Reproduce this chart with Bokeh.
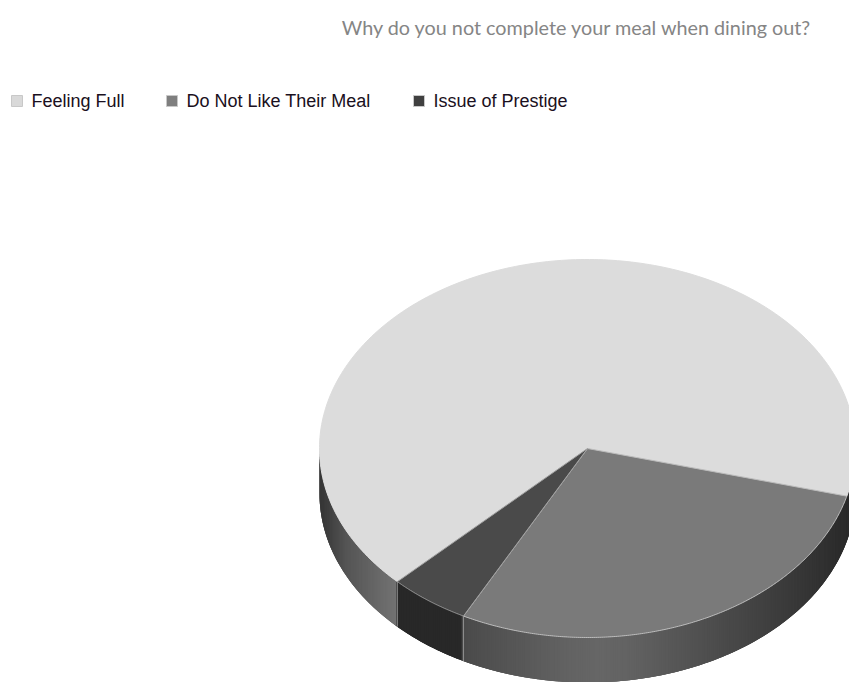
import numpy as np
from bokeh.core.properties import value
from bokeh.embed import file_html
from bokeh.models import Range1d
from bokeh.plotting import figure
from bokeh.resources import INLINE

title = "Why do you not complete your meal when dining out?"
categories = ["Feeling Full", "Do Not Like Their Meal", "Issue of Prestige"]
shares = [66.5, 28.6, 4.9]
top_colors = ["#dcdcdc", "#7a7a7a", "#4a4a4a"]
rim_colors = ["#dcdcdc", "#bcbcbc", "#a0a0a0"]
swatch_colors = ["#d9d9d9", "#7f7f7f", "#404040"]
legend_x = [11, 166, 413]

W, H = 849, 682
CX, CY, RX, RY, DEPTH = 587, 448, 268, 189, 45
# Slices run clockwise on screen, starting at the lower-left boundary of
# Feeling Full, so the first slice wraps over the back of the pie.
START_DEG = 135.2

p = figure(width=W, height=H, x_range=Range1d(0, W), y_range=Range1d(H, 0),
           output_backend="svg", toolbar_location=None, min_border=0,
           outline_line_color=None, background_fill_color="white")
p.axis.visible = False
p.grid.visible = False


def ellipse_x(t):
    return CX + RX * np.cos(np.radians(t))


def ellipse_y(t):
    return CY + RY * np.sin(np.radians(t))


def shade(x, stops):
    xs, greys = zip(*stops)
    g = int(round(np.interp(x, xs, greys)))
    return f"#{g:02x}{g:02x}{g:02x}"


edges = [START_DEG]
for share in shares:
    edges.append(edges[-1] + share * 3.6)

wall_left = [(319, 0x34), (345, 0x54), (398, 0x74)]
wall_main = [(462, 0x4a), (530, 0x5a), (570, 0x63), (600, 0x66), (630, 0x62),
             (700, 0x50), (780, 0x3c), (855, 0x28)]

split_main = edges[2] - 360   # Dislike / Prestige boundary on the rim
split_left = START_DEG        # Prestige / Full boundary on the rim

# Outer wall, front half of the rim only. Each strip reaches into the next
# one, which paints over the overlap and leaves no seams.
STEP = 0.5
wall_xs, wall_ys, wall_cols = [], [], []
for t0 in np.arange(0.0, 180.0, STEP):
    t1 = min(t0 + STEP * 3, 180.0)
    mid_x = ellipse_x(t0 + STEP / 2)
    if t0 < split_main:
        col = shade(mid_x, wall_main)
    elif t0 < split_left:
        col = "#282828"
    else:
        col = shade(mid_x, wall_left)
    ts = np.array([t0, t0 + STEP / 2, t1])
    wall_xs.append(np.r_[ellipse_x(ts), ellipse_x(ts[::-1])])
    wall_ys.append(np.r_[ellipse_y(ts), ellipse_y(ts[::-1]) + DEPTH])
    wall_cols.append(col)
p.patches(wall_xs, wall_ys, fill_color=wall_cols, line_color=None)

# Pale seams between wall sections.
for t in (split_main, split_left):
    p.line([ellipse_x(t)] * 2, [ellipse_y(t), ellipse_y(t) + DEPTH],
           line_color="#8c8c8c", line_width=1)

# Top faces of the slices.
for i, col in enumerate(top_colors):
    ts = np.linspace(edges[i], edges[i + 1], 240)
    xs = np.r_[CX, ellipse_x(ts)]
    ys = np.r_[CY, ellipse_y(ts)]
    p.patch(xs, ys, fill_color=col, line_color=rim_colors[i], line_width=1)

# Title and legend.
p.text([812], [26], text=[title], text_font=value("Lato"), text_font_size="19.8px",
       text_color="#858585", text_align="right", text_baseline="middle")
for x, name, col in zip(legend_x, categories, swatch_colors):
    p.rect([x + 5.5], [100.5], width=11, height=11, fill_color=col, line_color="#c8c8c8", line_width=1)
    p.text([x + 20], [100], text=[name], text_font=value("Liberation Sans"), text_font_size="18px",
           text_color="#1a1020", text_align="left", text_baseline="middle")

open("out.html", "w").write(file_html(p, INLINE))
